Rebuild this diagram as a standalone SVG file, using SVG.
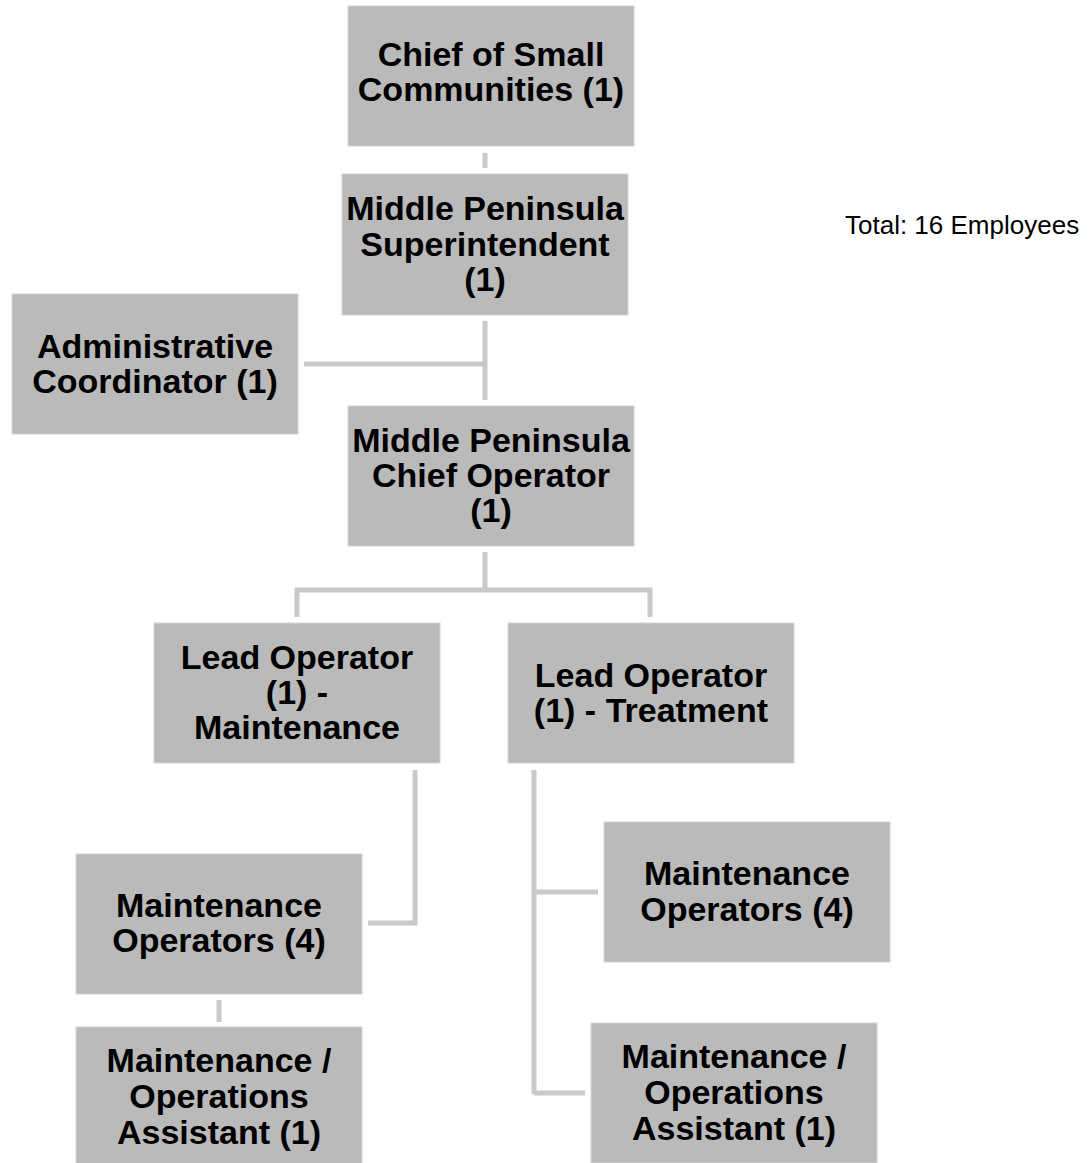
<svg xmlns="http://www.w3.org/2000/svg" width="1090" height="1163" viewBox="0 0 1090 1163">
<style>
.box{fill:#bababa;stroke:#d4d4d4;stroke-width:1}
.t{font-family:"Liberation Sans",Arial,sans-serif;font-weight:bold;font-size:34px;fill:#000;text-anchor:middle}
.c{stroke:#c9c9c9;stroke-width:5;fill:none}
.tot{font-family:"Liberation Sans",Arial,sans-serif;font-size:26px;fill:#000}
</style>
<rect width="1090" height="1163" fill="#fff"/>
<g id="connectors">
<line class="c" x1="485" y1="153" x2="485" y2="168"/>
<line class="c" x1="485" y1="321" x2="485" y2="400"/>
<line class="c" x1="304" y1="364" x2="485" y2="364"/>
<line class="c" x1="485" y1="552" x2="485" y2="590"/>
<polyline class="c" points="297,617 297,590 650,590 650,617"/>
<polyline class="c" points="415,770 415,923 368,923"/>
<line class="c" x1="219" y1="1000" x2="219" y2="1022"/>
<line class="c" x1="534" y1="770" x2="534" y2="1094"/>
<line class="c" x1="534" y1="892" x2="598" y2="892"/>
<line class="c" x1="534" y1="1093" x2="585" y2="1093"/>
</g>
<g id="chief-small-communities">
<rect class="box" x="348" y="6" width="286" height="140"/>
<text class="t" x="491" y="66">Chief of Small</text>
<text class="t" x="491" y="101">Communities (1)</text>
</g>
<g id="superintendent">
<rect class="box" x="342" y="174" width="286" height="141"/>
<text class="t" x="485" y="220">Middle Peninsula</text>
<text class="t" x="485" y="255.5">Superintendent</text>
<text class="t" x="485" y="291">(1)</text>
</g>
<g id="admin-coordinator">
<rect class="box" x="12" y="294" width="286" height="140"/>
<text class="t" x="155" y="358">Administrative</text>
<text class="t" x="155" y="393">Coordinator (1)</text>
</g>
<g id="chief-operator">
<rect class="box" x="348" y="406" width="286" height="140"/>
<text class="t" x="491" y="452">Middle Peninsula</text>
<text class="t" x="491" y="487">Chief Operator</text>
<text class="t" x="491" y="522">(1)</text>
</g>
<g id="lead-maintenance">
<rect class="box" x="154" y="623" width="286" height="140"/>
<text class="t" x="297" y="669">Lead Operator</text>
<text class="t" x="297" y="704">(1) -</text>
<text class="t" x="297" y="739">Maintenance</text>
</g>
<g id="lead-treatment">
<rect class="box" x="508" y="623" width="286" height="140"/>
<text class="t" x="651" y="687">Lead Operator</text>
<text class="t" x="651" y="722">(1) - Treatment</text>
</g>
<g id="maint-operators-left">
<rect class="box" x="76" y="854" width="286" height="140"/>
<text class="t" x="219" y="917">Maintenance</text>
<text class="t" x="219" y="952">Operators (4)</text>
</g>
<g id="assistant-left">
<rect class="box" x="76" y="1027" width="286" height="140"/>
<text class="t" x="219" y="1072">Maintenance /</text>
<text class="t" x="219" y="1108">Operations</text>
<text class="t" x="219" y="1144">Assistant (1)</text>
</g>
<g id="maint-operators-right">
<rect class="box" x="604" y="822" width="286" height="140"/>
<text class="t" x="747" y="885">Maintenance</text>
<text class="t" x="747" y="921">Operators (4)</text>
</g>
<g id="assistant-right">
<rect class="box" x="591" y="1023" width="286" height="140"/>
<text class="t" x="734" y="1068">Maintenance /</text>
<text class="t" x="734" y="1104">Operations</text>
<text class="t" x="734" y="1140">Assistant (1)</text>
</g>
<g id="total">
<text class="tot" x="845" y="234">Total: 16 Employees</text>
</g>
</svg>
